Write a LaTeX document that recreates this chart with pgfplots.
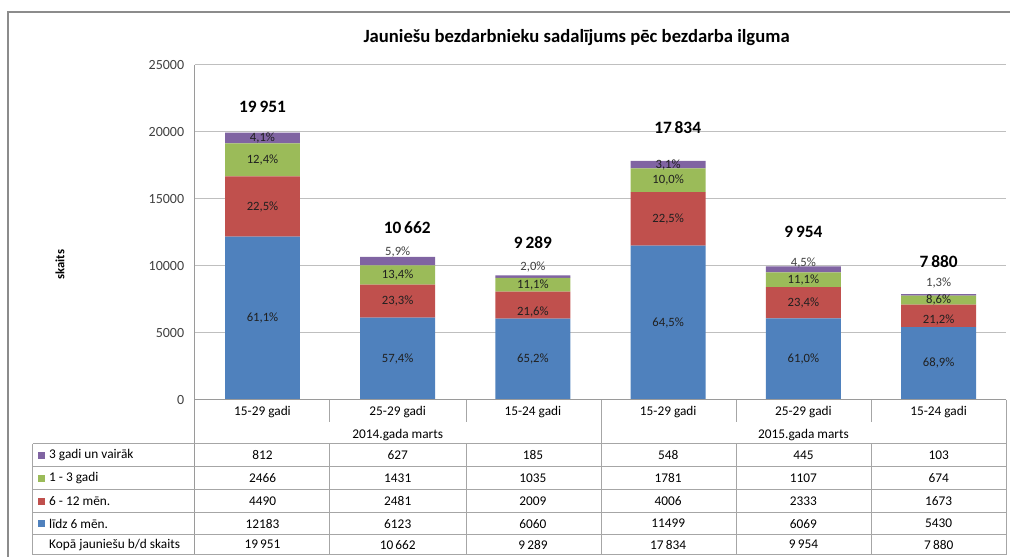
\documentclass[border=0pt]{standalone}
\usepackage{pgfplots}
\pgfplotsset{compat=1.18}
\usepackage{fontspec}
\setmainfont{Carlito}
\definecolor{cBlue}{HTML}{4F81BD}
\definecolor{cRed}{HTML}{C0504D}
\definecolor{cGreen}{HTML}{9BBB59}
\definecolor{cPurple}{HTML}{8064A2}
\definecolor{gridc}{HTML}{BFBFBF}
\definecolor{axc}{HTML}{9A9A9A}
\definecolor{tablec}{HTML}{A6A6A6}
\definecolor{txt}{HTML}{202020}
\definecolor{ticktxt}{HTML}{404040}
\definecolor{framec}{HTML}{8C8C8C}
\newcommand{\fs}[1]{\fontsize{#1}{#1}\selectfont}
\tikzset{
  pl/.style={font=\fs{9.5}, text=txt, inner sep=0pt},
  plg/.style={font=\fs{9.5}, text=ticktxt, inner sep=0pt},
  tot/.style={font=\bfseries\fs{13}, text=black, inner sep=0pt},
  tb/.style={font=\fs{10}, text=black, inner sep=0pt},
}
\begin{document}
\begin{tikzpicture}
\begin{scope}[x=0.75pt,y=-0.75pt]
\useasboundingbox (0,0) rectangle (1011,557);
\end{scope}
\begin{axis}[
  at={(146.25pt,-300pt)}, anchor=south west,
  scale only axis, width=609pt, height=251.25pt,
  ybar stacked, bar width=56.25pt,
  xmin=-0.5, xmax=5.5, ymin=0, ymax=25000,
  xtick=\empty,
  ytick={0,5000,10000,15000,20000,25000},
  scaled y ticks=false,
  /pgf/number format/assume math mode=true,
  /pgf/number format/1000 sep={},
  yticklabel style={font=\fs{10.5}, text=ticktxt, xshift=-4.5pt},
  ymajorgrids, grid style={gridc, line width=0.75pt},
  axis line style={draw=none},
  tick style={draw=none},
  clip=false,
]
\addplot[fill=cBlue, draw=none] coordinates {(0,12183) (1,6123) (2,6060) (3,11499) (4,6069) (5,5430)};
\addplot[fill=cRed, draw=none] coordinates {(0,4490) (1,2481) (2,2009) (3,4006) (4,2333) (5,1673)};
\addplot[fill=cGreen, draw=none] coordinates {(0,2466) (1,1431) (2,1035) (3,1781) (4,1107) (5,674)};
\addplot[fill=cPurple, draw=none] coordinates {(0,812) (1,627) (2,185) (3,548) (4,445) (5,103)};
\coordinate (a1) at (axis cs:0,6091);
\coordinate (a2) at (axis cs:0,14428);
\coordinate (a3) at (axis cs:0,17906);
\coordinate (a4) at (axis cs:0,19545);
\coordinate (b1) at (axis cs:1,3060);
\coordinate (b2) at (axis cs:1,7363);
\coordinate (b3) at (axis cs:1,9319);
\coordinate (b4) at (axis cs:1,11045);
\coordinate (c1) at (axis cs:2,3030);
\coordinate (c2) at (axis cs:2,6515);
\coordinate (c3) at (axis cs:2,8586);
\coordinate (c4) at (axis cs:2,9925);
\coordinate (d1) at (axis cs:3,5750);
\coordinate (d2) at (axis cs:3,13502);
\coordinate (d3) at (axis cs:3,16395);
\coordinate (d4) at (axis cs:3,17560);
\coordinate (e1) at (axis cs:4,3034);
\coordinate (e2) at (axis cs:4,7235);
\coordinate (e3) at (axis cs:4,8955);
\coordinate (e4) at (axis cs:4,10247);
\coordinate (f1) at (axis cs:5,2715);
\coordinate (f2) at (axis cs:5,5970);
\coordinate (f3) at (axis cs:5,7440);
\coordinate (f4) at (axis cs:5,8732);
\coordinate (t0) at (axis cs:0,21866);
\coordinate (t1) at (axis cs:1.07,12836);
\coordinate (t2) at (axis cs:2,11717);
\coordinate (t3) at (axis cs:3.07,20299);
\coordinate (t4) at (axis cs:4,12537);
\coordinate (t5) at (axis cs:5,10299);
\end{axis}
\node[pl] at (a1) {61,1\%};
\node[pl] at (a2) {22,5\%};
\node[pl] at (a3) {12,4\%};
\node[pl] at (a4) {4,1\%};
\node[pl] at (b1) {57,4\%};
\node[pl] at (b2) {23,3\%};
\node[pl] at (b3) {13,4\%};
\node[plg] at (b4) {5,9\%};
\node[pl] at (c1) {65,2\%};
\node[pl] at (c2) {21,6\%};
\node[pl] at (c3) {11,1\%};
\node[plg] at (c4) {2,0\%};
\node[pl] at (d1) {64,5\%};
\node[pl] at (d2) {22,5\%};
\node[pl] at (d3) {10,0\%};
\node[pl] at (d4) {3,1\%};
\node[pl] at (e1) {61,0\%};
\node[pl] at (e2) {23,4\%};
\node[pl] at (e3) {11,1\%};
\node[plg] at (e4) {4,5\%};
\node[pl] at (f1) {68,9\%};
\node[pl] at (f2) {21,2\%};
\node[pl] at (f3) {8,6\%};
\node[plg] at (f4) {1,3\%};
\node[tot] at (t0) {19\,951};
\node[tot] at (t1) {10\,662};
\node[tot] at (t2) {9\,289};
\node[tot] at (t3) {17\,834};
\node[tot] at (t4) {9\,954};
\node[tot] at (t5) {7\,880};
\begin{scope}[x=0.75pt,y=-0.75pt]
\draw[framec, line width=1.1pt] (8,557) -- (8,12) -- (1011,12);
\node[font=\bfseries\fs{14}] at (577,38) {Jauniešu bezdarbnieku sadalījums pēc bezdarba ilguma};
\node[font=\bfseries\fs{9.5}, rotate=90] at (60,265) {skaits};
\draw[axc, line width=0.75pt] (195,65) -- (195,555);
\draw[axc, line width=0.75pt] (195,400) -- (1007,400);
\foreach \yy in {444,467,490,513,535,555} \draw[tablec, line width=0.75pt] (33,\yy) -- (1007,\yy);
\draw[tablec, line width=0.75pt] (33,444) -- (33,555);
\draw[tablec, line width=0.75pt] (602,400) -- (602,555);
\draw[tablec, line width=0.75pt] (1007,400) -- (1007,555);
\foreach \xx in {330,467,737,872} {
  \draw[tablec, line width=0.75pt] (\xx,400) -- (\xx,422);
  \draw[tablec, line width=0.75pt] (\xx,444) -- (\xx,555);
}
\foreach \xx in {262.7,668.7} \node[tb] at (\xx,412) {15-29 gadi};
\foreach \xx in {398,804} \node[tb] at (\xx,412) {25-29 gadi};
\foreach \xx in {533.3,939.3} \node[tb] at (\xx,412) {15-24 gadi};
\node[tb] at (398,435) {2014.gada marts};
\node[tb] at (804,435) {2015.gada marts};
\fill[cPurple] (38.5,452) rectangle (45.5,459);
\fill[cGreen] (38.5,475) rectangle (45.5,482);
\fill[cRed] (38.5,498) rectangle (45.5,505);
\fill[cBlue] (38.5,520.5) rectangle (45.5,527.5);
\node[tb, anchor=west] at (49,455.5) {3 gadi un vairāk};
\node[tb, anchor=west] at (49,478.5) {1 - 3 gadi};
\node[tb, anchor=west] at (49,501.5) {6 - 12 mēn.};
\node[tb, anchor=west] at (49,524) {līdz 6 mēn.};
\node[tb, anchor=west] at (49,545) {Kopā jauniešu b/d skaits};
\foreach \v [count=\i from 0] in {812,627,185,548,445,103} \node[tb] at (262.7+135.33*\i,455.5) {\v};
\foreach \v [count=\i from 0] in {2466,1431,1035,1781,1107,674} \node[tb] at (262.7+135.33*\i,478.5) {\v};
\foreach \v [count=\i from 0] in {4490,2481,2009,4006,2333,1673} \node[tb] at (262.7+135.33*\i,501.5) {\v};
\foreach \v [count=\i from 0] in {12183,6123,6060,11499,6069,5430} \node[tb] at (262.7+135.33*\i,524) {\v};
\foreach \v [count=\i from 0] in {19\,951,10\,662,9\,289,17\,834,9\,954,7\,880} \node[tb] at (262.7+135.33*\i,545) {\v};
\end{scope}
\end{tikzpicture}
\end{document}
